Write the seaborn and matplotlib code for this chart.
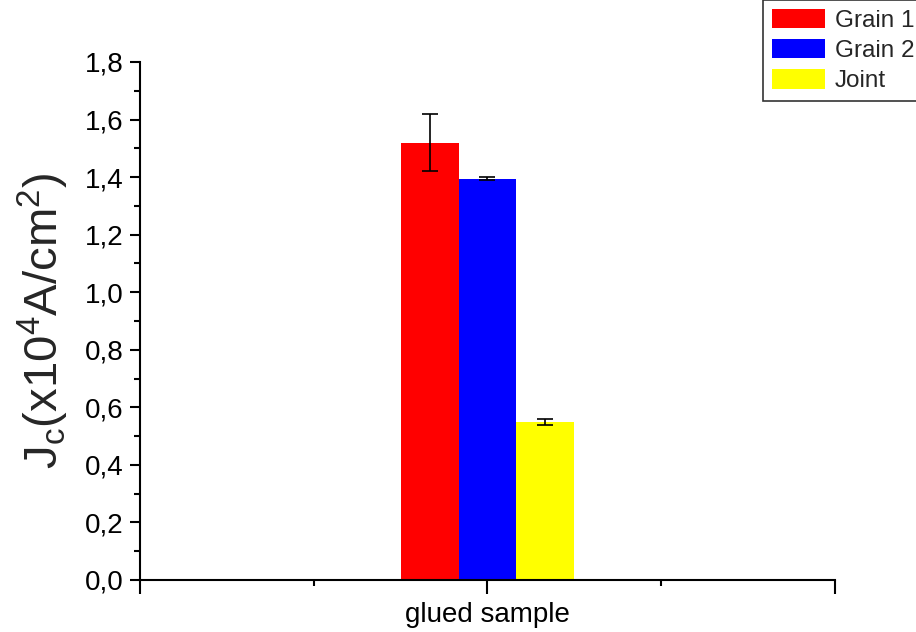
import matplotlib
matplotlib.use("Agg")
import matplotlib.pyplot as plt
import seaborn as sns
import pandas as pd
from matplotlib.ticker import MultipleLocator, FixedLocator, FuncFormatter

# Critical current density of the glued sample
samples = ["glued sample"]
regions = ["Grain 1", "Grain 2", "Joint"]
jc_values = [1.52, 1.395, 0.55]
jc_errors = [0.10, 0.004, 0.01]
colors = ["#ff0000", "#0000ff", "#ffff00"]

df = pd.DataFrame({
    "sample": samples * len(regions),
    "region": regions,
    "jc": jc_values,
})

sns.set_theme(style="ticks")
plt.rcParams["font.family"] = ["Liberation Sans", "DejaVu Sans"]
plt.rcParams["mathtext.fontset"] = "custom"
plt.rcParams["mathtext.rm"] = "Liberation Sans"

fig = plt.figure(figsize=(9.16, 6.32), dpi=100)
ax = fig.add_axes([0.1528, 0.0823, 0.7588, 0.8196])

sns.barplot(data=df, x="sample", y="jc", hue="region", hue_order=regions,
            palette=colors, width=0.5, errorbar=None, saturation=1,
            edgecolor="none", linewidth=0, ax=ax, legend=False)

# error bars centred on the drawn bars
for patch, val, err in zip(ax.patches, jc_values, jc_errors):
    xc = patch.get_x() + patch.get_width() / 2
    ax.errorbar(xc, val, yerr=err, fmt="none", ecolor="black",
                elinewidth=1.2, capsize=6, capthick=1.2)

ax.set_xlim(-1, 1)
ax.set_ylim(0, 1.8)
ax.xaxis.set_major_locator(FixedLocator([-1, 0, 1]))
ax.xaxis.set_minor_locator(FixedLocator([-0.5, 0.5]))
ax.set_xticklabels(["", "glued sample", ""])
ax.yaxis.set_major_locator(MultipleLocator(0.2))
ax.yaxis.set_minor_locator(MultipleLocator(0.1))
ax.yaxis.set_major_formatter(FuncFormatter(lambda v, p: f"{v:.1f}".replace(".", ",")))

ax.tick_params(axis="both", which="major", direction="out", width=1.5,
               color="black", labelcolor="black")
ax.tick_params(axis="x", which="major", length=10, pad=6, labelsize=20)
ax.tick_params(axis="y", which="major", length=7, pad=5, labelsize=20)
ax.tick_params(axis="both", which="minor", direction="out", length=4,
               width=1.5, color="black")

for side in ("top", "right"):
    ax.spines[side].set_visible(False)
for side in ("left", "bottom"):
    ax.spines[side].set_linewidth(1.5)
    ax.spines[side].set_color("black")

ax.set_xlabel("")
ax.set_ylabel(r"$\mathregular{J_c(x10^4A/cm^2)}$", fontsize=34, labelpad=10)

handles = [plt.Rectangle((0, 0), 1, 1, facecolor=c, edgecolor="none") for c in colors]
leg = fig.legend(handles, regions, loc="upper left", bbox_to_anchor=(0.833, 1.0),
                 fontsize=17.5, frameon=True, fancybox=False, edgecolor="black",
                 handlelength=2.2, handleheight=0.85, handletextpad=0.4,
                 labelspacing=0.3, borderpad=0.35, borderaxespad=0)
leg.get_frame().set_linewidth(1.2)

fig.savefig("out.png", dpi=100)
